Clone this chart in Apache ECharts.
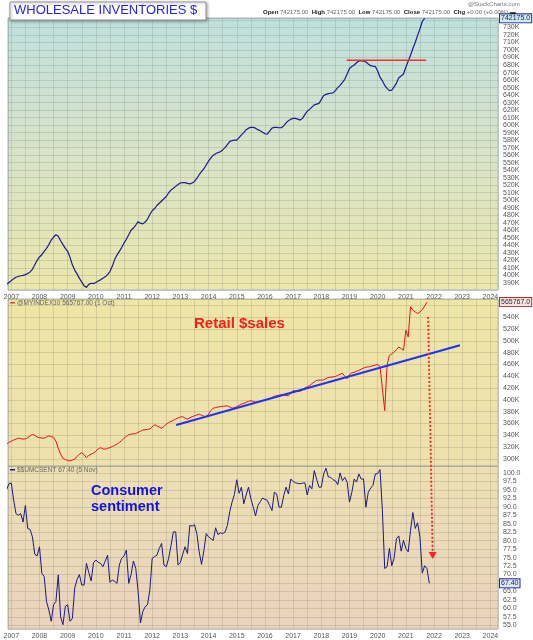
<!DOCTYPE html>
<html><head><meta charset="utf-8">
<script src="https://cdn.jsdelivr.net/npm/echarts@6/dist/echarts.min.js"></script>
<style>html,body{margin:0;padding:0;background:#fff}#c{width:533px;height:640px}</style>
</head><body><div id="c"></div>
<script>
// ---- data (monthly, first value = Nov 2006) ----
const START_YEAR = 2006, START_MONTH = 11;
const yearLabels = [2007,2008,2009,2010,2011,2012,2013,2014,2015,2016,2017,2018,2019,2020,2021,2022,2023,2024];

// Wholesale inventories, thousands of $ (K)
const wholesale = [
  388, 390.5,
  393, 395.5, 397.5, 398.5, 399.5, 400, 401, 402.5, 404.5, 408, 414, 420,
  424.5, 427.5, 432, 436, 441, 447, 451, 454, 452, 446, 441, 436,
  432, 424, 414, 407, 402, 396, 391, 386, 384, 388, 389.5, 389,
  390.5, 392.5, 394, 396, 398, 401, 405, 412, 421, 427, 432, 437,
  443, 448, 454, 460, 463, 467, 471.5, 469.5, 468.5, 471, 475, 481,
  486, 489, 493, 496, 499, 502, 505, 510, 513.5, 516, 518.5, 521,
  523, 523.5, 523.5, 522.5, 521.8, 523, 525, 529, 534, 538, 542, 547,
  552, 556.5, 560, 562, 563.5, 564.5, 567, 570, 574, 578, 579.5, 580,
  580, 583.5, 587, 590, 594, 596, 597, 597, 596, 594, 592.5, 590.5,
  588.5, 588, 592, 596, 597, 597, 596.5, 596.5, 599, 603, 606, 608,
  609, 609, 608, 606.7, 609, 614, 618.5, 621, 624, 627, 628, 629,
  634, 639.5, 641, 642, 642.5, 643, 646, 650, 653, 657, 661, 668,
  675.5, 678, 680, 683, 685.5, 686, 685.5, 684, 681.5, 679.2, 678.5, 678,
  672, 664, 659, 653, 649, 646, 646.5, 651, 656, 663, 665.5, 668,
  677, 685, 693, 702, 710, 719.5, 728, 738, 742.175
];

// @MYINDEX10 retail sales (K)
const retail = [
  325, 328,
  330, 332, 333.5, 335, 334.5, 333.5, 334, 336, 339, 341.5, 340, 337,
  336, 335.5, 335, 337, 339, 338, 336.5, 330, 318, 308, 301, 299,
  297.5, 296.6, 298, 299.5, 304, 308, 310.7, 307, 302, 306, 308, 310,
  313, 317, 319, 317, 316.5, 318, 319, 321, 323, 325, 328, 331,
  335, 338, 341, 342, 342.5, 343, 345, 347, 349, 349.5, 350, 350.6,
  354, 358, 356, 354, 352, 355, 359, 361.5, 363.5, 365.5, 367.6, 369.5,
  371, 371.6, 369, 367.6, 369.5, 371.6, 373, 374.5, 376, 374, 372.5, 371.6,
  376, 382, 386, 387, 388, 388.6, 389, 389.5, 389.8, 388, 386, 387,
  388.6, 391, 393, 394, 396, 397.5, 398.8, 397.5, 396, 397, 398, 398.8,
  400, 401, 401.7, 404, 406, 407, 408, 409, 408.5, 407.5, 407, 411,
  415.8, 415.2, 414.8, 414.6, 417, 420.4, 422, 424.4, 427.5, 430.5, 433, 433.5,
  433.5, 434, 436, 438, 438.5, 439, 439.7, 441.5, 443.5, 445.3, 440, 435.8,
  443, 446, 447, 448.5, 450, 452, 454, 455.5, 456, 456.7, 458, 459,
  460, 456.7, 420, 381.8, 458.4, 475.5, 478, 481, 485, 489.6, 487, 484,
  518, 506.6, 557.8, 552, 549, 546.5, 549, 553, 559, 565.767
];

// $$UMCSENT consumer sentiment
const sentiment = [
  95, 96.8,
  97, 92, 88, 87.5, 88, 85.5, 90.4, 83.6, 83.3, 81.1, 76, 75.5,
  78.2, 70.4, 69.4, 62, 59.5, 56.2, 61.1, 62, 69.9, 57.5, 55.2, 60.6,
  61.1, 56.2, 57, 66, 68.5, 70, 66.9, 66.9, 73.3, 70.6, 68.1, 73.5,
  74.3, 73.6, 73.3, 72.3, 74, 75.7, 67.7, 68.4, 68, 67.4, 72.8, 74.8,
  75.5, 77.2, 67.4, 70, 74, 71.8, 65, 55.7, 59.1, 60.5, 61.1, 65.5,
  74.8, 75.3, 75.7, 77.7, 79.2, 72.8, 72.3, 74.8, 78.5, 82.6, 82.6, 72.8,
  73.6, 76, 78.2, 76.2, 84.5, 84.3, 84.7, 82.1, 76.7, 73, 77, 82.1,
  81.1, 80.6, 80.1, 83.8, 81.8, 82.3, 82.1, 82.5, 84.5, 88.5, 91.4, 93.6,
  98, 94, 95.8, 90.9, 93.5, 95.8, 92.4, 90, 87.3, 90.4, 91.5, 92.6,
  92.2, 91.9, 90.4, 88.9, 94.3, 93.8, 89.9, 89.9, 93.3, 95.8, 93.8, 98.2,
  97.5, 97.1, 96.9, 96.8, 97, 97.1, 93.5, 96.3, 95.3, 100.7, 98.2, 95.8,
  95.8, 99.7, 101.4, 98.8, 98.7, 98, 97.7, 96.5, 100, 97.7, 98.7, 97.3,
  91.4, 94.3, 98.2, 97.3, 99.7, 98.2, 98.2, 89.9, 94.3, 95.5, 96.3, 99.7,
  99.8, 101, 89.1, 71.8, 72.3, 77.7, 72.6, 74.8, 80.6, 81.4, 76.9, 80.1,
  77.7, 76.7, 83.1, 88.3, 83.6, 85.3, 81.1, 70.4, 72.6, 71.8, 67.4
];

// annotations (date as decimal year, value)
const trendDates = [2012.85, 2022.92], trendValues = [357.5, 492.5];
const resistDates = [2018.9, 2021.72], resistValue = 686.3;
const arrowFrom = [2021.79, 540.7];   // retail panel
const arrowTo = [2021.95, 74.6];      // sentiment panel

// ---- helpers ----
const toXY = arr => arr.map((v, i) => [START_YEAR + (START_MONTH - 1 + i) / 12, v]);
const FONT = 'Liberation Sans';
const gridLine = {show: true, lineStyle: {color: 'rgba(120,125,100,0.22)', width: 1}};
const X_MIN = 2006.883, X_MAX = 2024.27;

function xAx(g, show) {
  return {type: 'value', gridIndex: g, min: X_MIN, max: X_MAX, minInterval: 0.5, maxInterval: 0.5,
    axisLine: {show: false}, axisTick: {show: false}, splitLine: gridLine,
    axisLabel: {show: show, fontSize: 7, color: '#555', fontFamily: FONT, margin: 4,
      showMinLabel: false, showMaxLabel: false,
      formatter: v => yearLabels.includes(v) ? String(v) : ''}};
}
function yAx(g, min, max, step, fmt) {
  return {type: 'value', gridIndex: g, position: 'right', min: min, max: max,
    minInterval: step, maxInterval: step, splitNumber: Math.round((max - min) / step),
    axisLine: {show: false}, axisTick: {show: false}, splitLine: gridLine,
    axisLabel: {fontSize: 7, color: '#555', fontFamily: FONT, margin: 5,
      showMinLabel: false, showMaxLabel: false, formatter: fmt}};
}
function grad(c0, c1, c2) {
  return new echarts.graphic.LinearGradient(0, 0, 0, 1,
    [{offset: 0, color: c0}, {offset: 0.5, color: c1}, {offset: 1, color: c2}]);
}
function closeBox(value, text, bg, border, color) {
  return {silent: true, symbol: 'none', lineStyle: {color: 'rgba(0,0,0,0)', width: 0},
    label: {show: true, position: 'end', distance: 2, formatter: text, fontSize: 7, fontFamily: FONT,
      color: color, backgroundColor: bg, borderColor: border, borderWidth: 1, padding: [1, 1, 0, 1]},
    data: [{yAxis: value}]};
}

const GL = 8, GR = 35;
const chart = echarts.init(document.getElementById('c'), null, {renderer: 'canvas'});
chart.setOption({
  animation: false,
  backgroundColor: '#ffffff',
  grid: [
    {left: GL, right: GR, top: 18, height: 272, show: true, borderColor: '#a8b6c4', borderWidth: 1,
      backgroundColor: grad('#bfe0de', '#d8e3c8', '#ebe6ac')},
    {left: GL, right: GR, top: 299, height: 167, show: true, borderColor: '#b8b8a8', borderWidth: 1,
      backgroundColor: grad('#eee5a6', '#eee3aa', '#ede0ae')},
    {left: GL, right: GR, top: 466, height: 165, show: true, borderColor: '#b8b8a8', borderWidth: 1,
      backgroundColor: grad('#eddfb2', '#ebd9b8', '#ebd2bd')}
  ],
  xAxis: [xAx(0, true), xAx(1, false), xAx(2, true)],
  yAxis: [
    yAx(0, 380.5, 742.65, 10, v => v + 'K'),
    yAx(1, 288, 571, 20, v => v + 'K'),
    yAx(2, 53.92, 102.05, 2.5, v => v.toFixed(1))
  ],
  series: [
    {type: 'line', xAxisIndex: 0, yAxisIndex: 0, data: toXY(wholesale), showSymbol: false,
      lineStyle: {color: '#1b1b8f', width: 1.2}, itemStyle: {color: '#1b1b8f'},
      markLine: closeBox(wholesale[wholesale.length - 1], (wholesale[wholesale.length - 1] * 1000).toFixed(1),
        '#cfe9ee', '#2a2a9a', '#1a1a60')},
    {type: 'line', xAxisIndex: 0, yAxisIndex: 0, showSymbol: false,
      data: resistDates.map(d => [d, resistValue]),
      lineStyle: {color: '#ff2a2a', width: 1.5}},
    {type: 'line', xAxisIndex: 1, yAxisIndex: 1, data: toXY(retail), showSymbol: false,
      lineStyle: {color: '#e01515', width: 1}, itemStyle: {color: '#e01515'},
      markLine: closeBox(retail[retail.length - 1], (retail[retail.length - 1] * 1000).toFixed(1),
        '#f6e4e4', '#c03030', '#303030')},
    {type: 'line', xAxisIndex: 1, yAxisIndex: 1, showSymbol: false,
      data: trendDates.map((d, i) => [d, trendValues[i]]),
      lineStyle: {color: '#2030ff', width: 2}},
    {type: 'line', xAxisIndex: 2, yAxisIndex: 2, data: toXY(sentiment), showSymbol: false,
      lineStyle: {color: '#1a1a80', width: 1}, itemStyle: {color: '#1a1a80'},
      markLine: closeBox(sentiment[sentiment.length - 1], sentiment[sentiment.length - 1].toFixed(2),
        '#dde9f8', '#2a2a9a', '#1a1a60')}
  ]
});

// ---- annotations ----
const p0 = chart.convertToPixel({xAxisIndex: 1, yAxisIndex: 1}, arrowFrom);
const p1 = chart.convertToPixel({xAxisIndex: 2, yAxisIndex: 2}, arrowTo);
const txt = (x, y, text, style) => ({type: 'text', left: x, top: y, z: 100,
  style: Object.assign({text: text, fontFamily: FONT, fill: '#555', fontSize: 7}, style)});

chart.setOption({graphic: [
  // arrow
  {type: 'line', z: 50, shape: {x1: p0[0], y1: p0[1], x2: p1[0], y2: p1[1] - 6},
    style: {stroke: '#ff2020', lineWidth: 1.8, lineDash: [2, 2]}},
  {type: 'polygon', z: 50, shape: {points: [[p1[0] - 4, p1[1] - 7], [p1[0] + 4, p1[1] - 7], [p1[0], p1[1]]]},
    style: {fill: '#ff2020'}},
  // title box
  {type: 'rect', z: 100, shape: {x: 10, y: 2, width: 196, height: 18},
    style: {fill: '#ffffff', stroke: '#9a9a9a', lineWidth: 1, shadowBlur: 3, shadowColor: 'rgba(0,0,0,0.35)',
      shadowOffsetX: 1, shadowOffsetY: 1}},
  txt(14, 4, 'WHOLESALE INVENTORIES $', {fontSize: 13, fill: '#2424e6'}),
  // header
  {type: 'text', left: 263, top: 9, z: 100, style: {
    text: '{b|Open} 742175.00  {b|High} 742175.00  {b|Low} 742175.00  {b|Close} 742175.00  {b|Chg} +0.00 (+0.00%) {b|▬}',
    fontFamily: FONT, fontSize: 6, fill: '#666',
    rich: {b: {fontFamily: FONT, fontSize: 6, fontWeight: 'bold', fill: '#222'}}}},
  txt(468, 1, '@StockCharts.com', {fontSize: 6, fill: '#777'}),
  // legends
  {type: 'rect', z: 100, shape: {x: 10, y: 302, width: 5, height: 1.5}, style: {fill: '#e04040'}},
  txt(17, 299.5, '@MYINDEX10 565767.00 (1 Oct)', {fontSize: 6.5, fill: '#666'}),
  {type: 'rect', z: 100, shape: {x: 10, y: 469, width: 5, height: 1.5}, style: {fill: '#1a1a80'}},
  txt(17, 466.5, '$$UMCSENT 67.40 (5 Nov)', {fontSize: 6.5, fill: '#666'}),
  // panel captions
  txt(194, 316, 'Retail $sales', {fontSize: 15, fontWeight: 'bold', fill: '#ff1a1a'}),
  txt(91, 483, 'Consumer\nsentiment', {fontSize: 14.5, fontWeight: 'bold', fill: '#1212e6', lineHeight: 16})
]});
</script></body></html>
